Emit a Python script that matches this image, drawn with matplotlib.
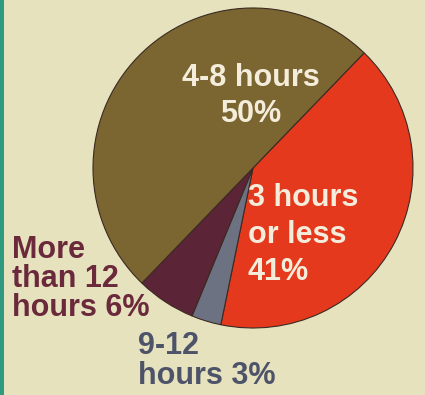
import matplotlib
matplotlib.use('Agg')
import matplotlib.pyplot as plt

# Data
labels = ['3 hours\nor less\n41%', '9-12\nhours 3%', 'More\nthan 12\nhours 6%', '4-8 hours\n50%']
shares = [41, 3, 6, 50]
slice_colors = ['#e5391d', '#6c7282', '#5b2437', '#7b6632']
text_colors = ['#f4eddb', '#4d5369', '#6a2a3c', '#f4eddb']

# label anchor (pixels, from top-left), alignment, line spacing
label_pos = [(248, 235), (138, 361), (12, 279), (251, 96)]
label_ha = ['left', 'left', 'left', 'center']
label_ls = [1.3, 0.97, 0.97, 1.22]

W, H = 425, 395
bg = '#e6e2bd'

plt.rcParams['font.family'] = ['Liberation Sans', 'DejaVu Sans']

fig = plt.figure(figsize=(W / 100, H / 100), dpi=100, facecolor=bg)
ax = fig.add_axes([0, 0, 1, 1])
ax.set_facecolor(bg)

wedges, _ = ax.pie(shares, colors=slice_colors, startangle=46, counterclock=False,
                   center=(253, H - 168), radius=160,
                   wedgeprops={'edgecolor': '#3b2a22', 'linewidth': 0.8})

ax.set_xlim(0, W)
ax.set_ylim(0, H)
ax.set_aspect('auto')
ax.axis('off')

# teal strip on the left edge
ax.axvspan(0, 4, color='#2f9a7f', lw=0)

for i in range(len(labels)):
	x, y = label_pos[i]
	ax.text(x, H - y, labels[i], color=text_colors[i], fontsize=22, fontweight='bold',
			ha=label_ha[i], va='center', multialignment=label_ha[i], linespacing=label_ls[i])

plt.savefig('out.png', dpi=100, facecolor=bg)
